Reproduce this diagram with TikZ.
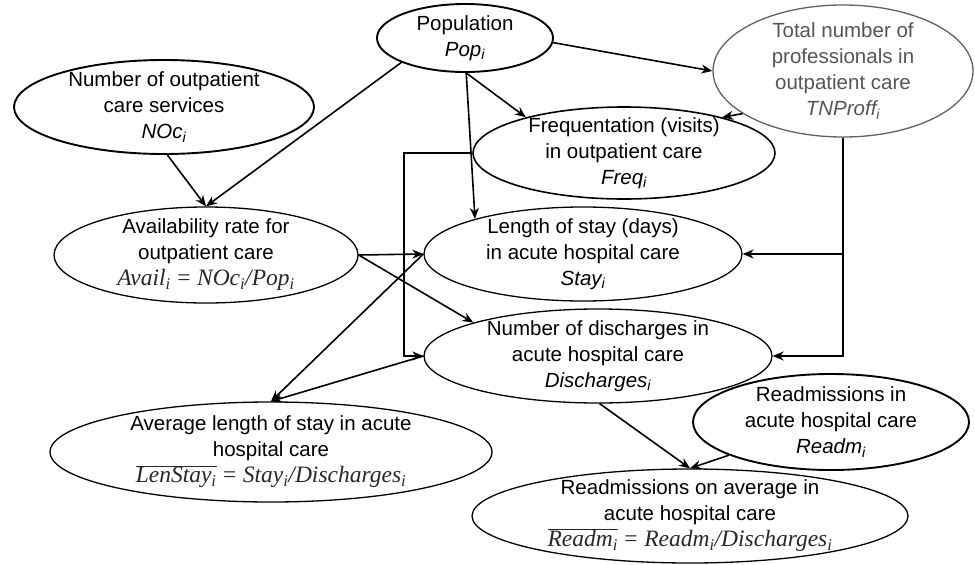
\documentclass[tikz,border=0pt]{standalone}
\usepackage[no-math]{fontspec}
\setmainfont{Liberation Sans}
\newfontfamily\fserif{Liberation Serif}
\usetikzlibrary{arrows.meta,shapes.geometric,calc}
\definecolor{graytxt}{RGB}{85,85,85}
\definecolor{grayline}{RGB}{105,95,88}
\definecolor{formula}{RGB}{40,40,40}
\newcommand{\fv}[1]{{\fserif\itshape #1}}
\newcommand{\fsub}[1]{\textsubscript{\fserif\itshape #1}}
\newcommand{\feq}{\hspace{0.28em}{\fserif=}\hspace{0.28em}}
\newcommand{\fover}[1]{$\overline{\mbox{#1}}$}
\newcommand{\fline}[1]{{\color{formula}\fontsize{23.5}{26}\selectfont #1}}
\begin{document}
\begin{tikzpicture}[x=1pt,y=-1pt,
  every node/.style={font=\fontsize{20.5}{26}\selectfont},
  ell/.style={ellipse, draw=black, line width=1.3pt, inner sep=0pt},
  thick ell/.style={ell, line width=1.9pt},
  txt/.style={align=center, inner sep=0pt},
  arr/.style={-{Stealth[length=11pt,width=9pt,inset=3.5pt]}, line width=1.6pt}]
\useasboundingbox (0,0) rectangle (975,565);
% ellipses
\node[thick ell, minimum width=176pt, minimum height=68pt] (pop) at (465,38) {};
\node[thick ell, minimum width=300pt, minimum height=94pt] (noc) at (164,107) {};
\node[ell, draw=grayline, minimum width=260pt, minimum height=132pt] (tnp) at (843,71) {};
\node[ell, line width=1.6pt, minimum width=302pt, minimum height=92pt] (freq) at (624,153) {};
\node[ell, minimum width=304pt, minimum height=96pt] (avail) at (206,255) {};
\node[ell, minimum width=318pt, minimum height=94pt] (stay) at (583,254) {};
\node[ell, minimum width=348pt, minimum height=94pt] (dis) at (598,356) {};
\node[ell, minimum width=442pt, minimum height=100pt] (len) at (271,452) {};
\node[thick ell, minimum width=276pt, minimum height=96pt] (readm) at (831,422) {};
\node[ell, minimum width=436pt, minimum height=94pt] (ravg) at (690,516) {};
% texts
\node[txt] at (pop) {Population\\\textit{Pop\textsubscript{i}}};
\node[txt] at (noc) {Number of outpatient\\care services\\\textit{NOc\textsubscript{i}}};
\node[txt, text=graytxt] at (tnp) {Total number of\\professionals in\\outpatient care\\\textit{TNProff\textsubscript{i}}};
\node[txt] at (freq) {Frequentation (visits)\\in outpatient care\\\textit{Freq\textsubscript{i}}};
\node[txt] at (avail) {Availability rate for\\outpatient care\\\fline{\fv{Avail}\fsub{i}\feq\fv{NOc}\fsub{i}\fv{/Pop}\fsub{i}}};
\node[txt] at (stay) {Length of stay (days)\\in acute hospital care\\\textit{Stay\textsubscript{i}}};
\node[txt] at (dis) {Number of discharges in\\acute hospital care\\\textit{Discharges\textsubscript{i}}};
\node[txt] at (len) {Average length of stay in acute\\hospital care\\\fline{\fover{\fv{LenStay}\fsub{i}}\feq\fv{Stay}\fsub{i}\fv{/Discharges}\fsub{i}}};
\node[txt] at (readm) {Readmissions in\\acute hospital care\\\textit{Readm\textsubscript{i}}};
\node[txt] at (ravg) {Readmissions on average in\\acute hospital care\\\fline{\fover{\fv{Readm}\fsub{i}}\feq\fv{Readm}\fsub{i}\fv{/Discharges}\fsub{i}}};
% connectors
\draw[arr] (noc.-86) -- (avail.north);
\draw[arr] (pop.201) -- (avail.north);
\draw[arr] (pop.-3) -- (tnp.west);
\draw[arr] (pop.-88) -- (freq.160);
\draw[arr] (pop.-88) -- (stay.162);
\draw[arr] (tnp.203) -- (freq.20);
\draw[arr] (tnp.south) |- (stay.east);
\draw[arr] (tnp.south) |- (dis.east);
\draw[arr] (freq.west) -- ++(-68,0) |- (dis.west);
\draw[arr] (avail.east) -- (stay.west);
\draw[arr] (avail.east) -- (dis.165);
\draw[arr] (stay.west) -- (len.north);
\draw[arr] (dis.west) -- (len.north);
\draw[arr] (dis.-88) -- (ravg.north);
\draw[arr] (readm.198) -- (ravg.north);
\end{tikzpicture}
\end{document}
